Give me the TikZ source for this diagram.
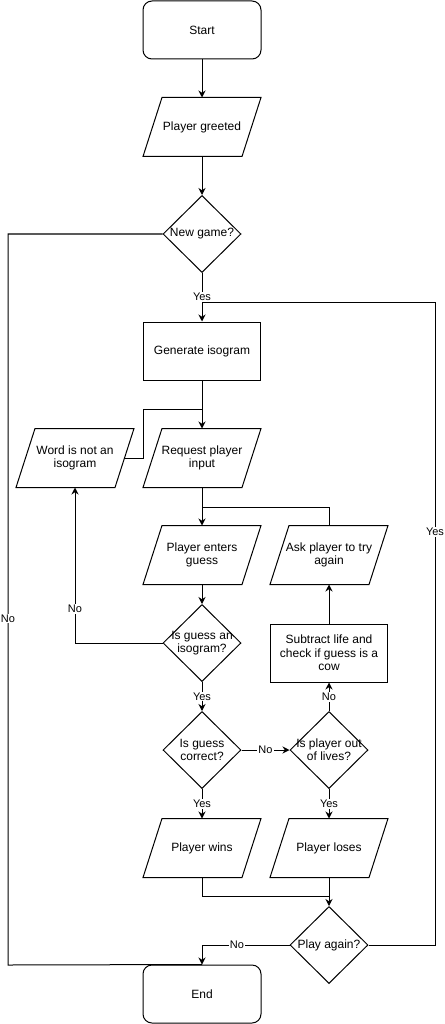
\documentclass[tikz,border=0pt]{standalone}
\usepackage{fontspec}
\setmainfont{Liberation Sans}
\usetikzlibrary{shapes.geometric,arrows.meta}
\tikzset{
  base/.style={line width=1pt, align=center, font=\fontsize{12}{13.5}\selectfont},
  terminal/.style={base, draw, rounded corners=9pt, minimum width=118pt, minimum height=58pt},
  process/.style={base, draw, minimum width=117pt, minimum height=58pt},
  io/.style={base, minimum width=117pt, minimum height=58pt, inner sep=1pt},
  decision/.style={base, draw, diamond, minimum width=78pt, minimum height=77pt, inner sep=0pt},
  every label/.append style={align=center, inner sep=0pt, font=\fontsize{12}{13}\selectfont},
  flow/.style={line width=1pt, -{Stealth[length=7pt,width=7pt]}},
  link/.style={line width=1pt},
  lab/.style={fill=white, inner sep=1pt, font=\fontsize{11}{12}\selectfont},
}
\begin{document}
\begin{tikzpicture}[x=1pt,y=-1pt]
\useasboundingbox (0,0) rectangle (444,1024);
\node[terminal] (start) at (202,30) {Start}; % top
\node[io] (greeted) at (202,127) {Player greeted};
\node[decision, label={center:New game?}] (newgame) at (202,234) {};
\node[process] (generate) at (202,351) {Generate isogram};
\node[io] (word) at (75,458) {Word is not an\\isogram};
\node[io] (request) at (202,458) {Request player\\input};
\node[io] (enters) at (202,555) {Player enters\\guess};
\node[io] (ask) at (329,555) {Ask player to try\\again};
\node[decision, label={center:Is guess an\\isogram?}] (isogram) at (202,643) {};
\node[process] (subtract) at (329,653) {Subtract life and\\check if guess is a\\cow};
\node[decision, label={center:Is guess\\correct?}] (correct) at (202,750) {};
\node[decision, label={center:Is player out\\of lives?}] (lives) at (329,750) {};
\node[io] (wins) at (202,848) {Player wins};
\node[io] (loses) at (329,848) {Player loses};
\node[decision, label={center:Play again?}] (again) at (329,945) {};
\node[terminal] (end) at (202,994) {End}; % bottom

% slanted outlines
\foreach \n in {greeted,word,request,enters,ask,wins,loses}
  \draw[line width=1pt] (\n.south west) -- ([xshift=19pt]\n.north west)
    -- (\n.north east) -- ([xshift=-19pt]\n.south east) -- cycle;

\coordinate (loopin) at (202,302);
\coordinate (wordrail) at (143,409);
\coordinate (wordjoin) at (202,409);
\coordinate (askjoin) at (202,507);
\coordinate (winjoin) at (329,896);
\coordinate (leftrail) at (8,965);
\coordinate (rightrail) at (435,302);

\draw[flow] (start.south) -- (greeted.north);
\draw[flow] (greeted.south) -- (newgame.north);
\draw[flow] (newgame.south) -- node[lab] {Yes} (generate.north);
\draw[link] (newgame.west) -| node[lab, pos=0.763] {No} (leftrail) -- (end.north);
\draw[link] (again.east) -| node[lab, pos=0.821] {Yes} (rightrail) -- (loopin);
\draw[flow] (generate.south) -- (request.north);
\draw[link] ([xshift=-9.5pt]word.east) -| (wordrail) -- (wordjoin);
\draw[flow] (request.south) -- (enters.north);
\draw[link] (ask.north) |- (askjoin);
\draw[flow] (enters.south) -- (isogram.north);
\draw[flow] (isogram.west) -| node[lab, pos=0.609] {No} (word.south);
\draw[flow] (isogram.south) -- node[lab] {Yes} (correct.north);
\draw[flow] (correct.east) -- node[lab] {No} (lives.west);
\draw[flow] (lives.north) -- node[lab] {No} (subtract.south);
\draw[flow] (subtract.north) -- (ask.south);
\draw[flow] (correct.south) -- node[lab] {Yes} (wins.north);
\draw[flow] (lives.south) -- node[lab] {Yes} (loses.north);
\draw[link] (wins.south) |- (winjoin);
\draw[flow] (loses.south) -- (again.north);
\draw[flow] (again.west) -| node[lab, pos=0.3] {No} (end.north);
\end{tikzpicture}
\end{document}
